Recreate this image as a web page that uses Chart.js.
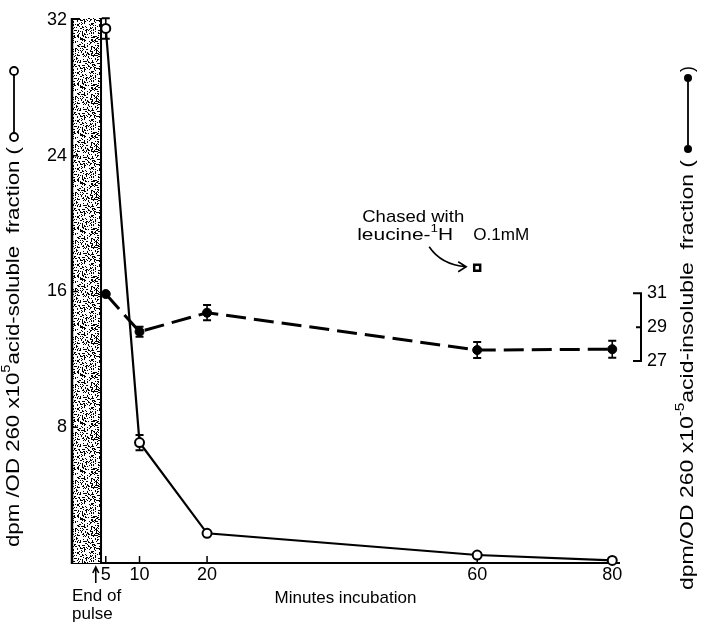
<!DOCTYPE html>
<html><head><meta charset="utf-8">
<script src="https://cdn.jsdelivr.net/npm/chart.js@4.4.0/dist/chart.umd.min.js"></script>
<style>html,body{margin:0;padding:0;background:#fff}#wrap{width:702px;height:623px}</style>
</head><body><div id="wrap"><canvas id="c" width="702" height="623"></canvas></div>
<script>
// ---- data ----
const minutes = [5, 10, 20, 60, 80];
const solubleValues = [31.5, 7.1, 1.75, 0.47, 0.15];
const solubleErrors = [0.6, 0.45, 0, 0, 0];
const insolubleValues = [30.95, 28.73, 29.85, 27.65, 27.7];
const insolubleErrors = [0, 0.3, 0.45, 0.47, 0.5];
const chaseMinutes = [60];
const chaseValues = [17.4];
const xTickValues = [5, 10, 20, 60, 80];
const xTickLabels = ['5', '10', '20', '60', '80'];
const leftTickValues = [8, 16, 24, 32];
const rightTickValues = [27, 29, 31];
const pulseBand = [0, 4.3];

const FAM = '"Liberation Sans", Arial, sans-serif';

function stipple(ctx) {
  const c = document.createElement('canvas');
  c.width = 48; c.height = 48;
  const g = c.getContext('2d');
  g.fillStyle = '#fff'; g.fillRect(0, 0, 48, 48);
  g.fillStyle = '#000';
  for (let i = 0; i < 48; i++) for (let j = 0; j < 48; j++) {
    const h = Math.sin(i * 12.9898 + j * 78.233) * 43758.5453;
    if (h - Math.floor(h) < 0.3) g.fillRect(i, j, 1, 1);
  }
  return ctx.createPattern(c, 'repeat');
}

function drawRich(ctx, segs, size, len) {
  const main = size + 'px ' + FAM, sup = Math.round(size * 0.65) + 'px ' + FAM;
  let W = 0;
  segs.forEach(s => { ctx.font = s.sup ? sup : main; s.w = ctx.measureText(s.t).width; W += s.w; });
  ctx.save();
  if (len) ctx.scale(len / W, 1);
  let u = 0;
  segs.forEach(s => {
    ctx.font = s.sup ? sup : main;
    ctx.fillText(s.t, u, s.sup ? -size * 0.42 : 0);
    u += s.w;
  });
  ctx.restore();
}

const noPad = s => { s.paddingTop = 0; s.paddingBottom = 0; s.paddingLeft = 0; s.paddingRight = 0; };

const decorPlugin = {
  id: 'decor',
  beforeDatasetsDraw(chart) {
    const { ctx, scales: { x, y } } = chart;
    const x0 = x.getPixelForValue(pulseBand[0]), x1 = x.getPixelForValue(pulseBand[1]);
    const yTop = y.getPixelForValue(y.max) - 2, yBot = y.getPixelForValue(0);
    ctx.save();
    ctx.fillStyle = stipple(ctx);
    ctx.fillRect(x0, yTop, x1 - x0, yBot - yTop);
    ctx.strokeStyle = '#000';
    ctx.lineWidth = 2;
    ctx.beginPath();
    ctx.moveTo(x1, yTop); ctx.lineTo(x1, yBot);
    ctx.moveTo(x0, yTop + 1); ctx.lineTo(x0 + 8, yTop + 1);
    ctx.stroke();
    ctx.lineWidth = 2.5;
    ctx.beginPath(); ctx.moveTo(x0, yTop); ctx.lineTo(x0, yBot + 1); ctx.stroke();
    // inside ticks
    ctx.lineWidth = 1.5;
    ctx.beginPath();
    leftTickValues.slice(0, 3).forEach(v => { const p = y.getPixelForValue(v); ctx.moveTo(x0, p); ctx.lineTo(x0 + 6, p); });
    xTickValues.forEach(v => { const p = x.getPixelForValue(v); ctx.moveTo(p, yBot); ctx.lineTo(p, yBot - 7); });
    ctx.stroke();
    // error bars
    const bars = (vals, errs, sc) => {
      vals.forEach((v, i) => {
        if (!errs[i]) return;
        const px = x.getPixelForValue(minutes[i]);
        const a = sc.getPixelForValue(v + errs[i]), b = sc.getPixelForValue(v - errs[i]);
        ctx.lineWidth = 1.6;
        ctx.beginPath(); ctx.moveTo(px, a); ctx.lineTo(px, b); ctx.stroke();
        ctx.lineWidth = 2;
        ctx.beginPath(); ctx.moveTo(px - 4, a); ctx.lineTo(px + 4, a); ctx.moveTo(px - 4, b); ctx.lineTo(px + 4, b); ctx.stroke();
      });
    };
    bars(solubleValues, solubleErrors, y);
    bars(insolubleValues, insolubleErrors, chart.scales.y2);
    ctx.restore();
  },
  afterDraw(chart) {
    const { ctx, chartArea, scales: { x, y, y2 } } = chart;
    ctx.save();
    ctx.fillStyle = '#000'; ctx.strokeStyle = '#000';
    ctx.textBaseline = 'middle';
    // "end of pulse" arrow next to the 5-min tick label
    const ax = x.getPixelForValue(xTickValues[0]) - 10, ay = chartArea.bottom;
    ctx.lineWidth = 1.6;
    ctx.beginPath();
    ctx.moveTo(ax, ay + 20); ctx.lineTo(ax, ay + 5);
    ctx.moveTo(ax - 3, ay + 10); ctx.lineTo(ax, ay + 4); ctx.lineTo(ax + 3, ay + 10);
    ctx.stroke();
    // right bracket axis
    const bx = chartArea.right + 22;
    const p27 = y2.getPixelForValue(27), p29 = y2.getPixelForValue(29), p31 = y2.getPixelForValue(31);
    ctx.lineWidth = 2;
    ctx.beginPath();
    ctx.moveTo(bx - 8, p31); ctx.lineTo(bx, p31); ctx.lineTo(bx, p27); ctx.lineTo(bx - 8, p27);
    ctx.moveTo(bx - 5, p29); ctx.lineTo(bx, p29);
    ctx.stroke();
    // left title
    ctx.save();
    ctx.translate(14, 547); ctx.rotate(-Math.PI / 2);
    drawRich(ctx, [{ t: 'dpm /OD 260 x10' }, { t: '5', sup: true }, { t: 'acid-soluble  fraction (' }], 18, 400);
    ctx.lineWidth = 1.8;
    ctx.beginPath(); ctx.arc(410, 0, 4, 0, Math.PI * 2); ctx.stroke();
    ctx.beginPath(); ctx.moveTo(414, 0); ctx.lineTo(472, 0); ctx.stroke();
    ctx.beginPath(); ctx.arc(476, 0, 4, 0, Math.PI * 2); ctx.stroke();
    ctx.restore();
    // right title
    ctx.save();
    ctx.translate(688, 590); ctx.rotate(-Math.PI / 2);
    drawRich(ctx, [{ t: 'dpm/OD 260 x10' }, { t: '-5', sup: true }, { t: 'acid-insoluble  fraction (' }], 18, 430);
    ctx.lineWidth = 1.8;
    ctx.beginPath(); ctx.arc(441, 0, 4, 0, Math.PI * 2); ctx.fill();
    ctx.beginPath(); ctx.moveTo(441, 0); ctx.lineTo(512, 0); ctx.stroke();
    ctx.beginPath(); ctx.arc(512, 0, 4, 0, Math.PI * 2); ctx.fill();
    ctx.font = '18px ' + FAM; ctx.fillText(')', 518, 0);
    ctx.restore();
    // x title and End of pulse
    ctx.font = '17px ' + FAM; ctx.textAlign = 'center';
    ctx.fillText('Minutes incubation', (chartArea.left + chartArea.right) / 2, 598);
    ctx.textAlign = 'left';
    ctx.fillText('End of', chartArea.left, 596);
    ctx.fillText('pulse', chartArea.left, 614);
    // annotation
    const sx = x.getPixelForValue(chaseMinutes[0]), sy = y.getPixelForValue(chaseValues[0]);
    ctx.save(); ctx.translate(sx - 115, sy - 50);
    drawRich(ctx, [{ t: 'Chased with' }], 17, 102); ctx.restore();
    ctx.save(); ctx.translate(sx - 120, sy - 32);
    drawRich(ctx, [{ t: 'leucine-' }, { t: '1', sup: true }, { t: 'H' }], 17, 96); ctx.restore();
    ctx.save(); ctx.translate(sx - 4, sy - 32);
    drawRich(ctx, [{ t: 'O.1mM' }], 17, 56); ctx.restore();
    ctx.lineWidth = 1.6;
    ctx.beginPath();
    ctx.moveTo(sx - 48, sy - 21);
    ctx.quadraticCurveTo(sx - 36, sy - 3, sx - 11, sy - 1);
    ctx.moveTo(sx - 19, sy - 6); ctx.lineTo(sx - 11, sy - 1); ctx.lineTo(sx - 19, sy + 4);
    ctx.stroke();
    ctx.restore();
  }
};

const pts = (xs, ys) => xs.map((m, i) => ({ x: m, y: ys[i] }));

new Chart(document.getElementById('c'), {
  type: 'line',
  data: {
    datasets: [
      { label: 'acid-soluble', data: pts(minutes, solubleValues), yAxisID: 'y', borderColor: '#000', borderWidth: 2.2,
        pointRadius: 4.5, pointBorderWidth: 2, pointBackgroundColor: '#fff', pointBorderColor: '#000', tension: 0, clip: false },
      { label: 'acid-insoluble', data: pts(minutes, insolubleValues), yAxisID: 'y2', borderColor: '#000', borderWidth: 3,
        borderDash: [20, 8], pointRadius: 4.5, pointBorderWidth: 1, pointBackgroundColor: '#000', pointBorderColor: '#000', tension: 0, clip: false },
      { label: 'chased', data: pts(chaseMinutes, chaseValues), yAxisID: 'y', showLine: false, pointStyle: 'rect',
        pointRadius: 4.2, pointBorderWidth: 2.5, pointBackgroundColor: '#fff', pointBorderColor: '#000', clip: false }
    ]
  },
  options: {
    responsive: false, animation: false,
    layout: { padding: { top: 20, left: 0, right: 0, bottom: 0 } },
    plugins: { legend: { display: false }, tooltip: { enabled: false } },
    scales: {
      x: {
        type: 'linear', min: 0, max: 81,
        afterBuildTicks: s => { s.ticks = xTickValues.map(v => ({ value: v })); },
        afterFit: s => { s.height = 60; noPad(s); },
        grid: { display: false, drawTicks: false }, border: { display: true, color: '#000', width: 2 },
        ticks: { color: '#000', font: { family: FAM, size: 18 }, padding: 1, maxRotation: 0, autoSkip: false,
          callback: v => xTickLabels[xTickValues.indexOf(v)] }
      },
      y: {
        position: 'left', min: 0, max: 32,
        afterBuildTicks: s => { s.ticks = leftTickValues.map(v => ({ value: v })); },
        afterFit: s => { s.width = 72; noPad(s); },
        grid: { display: false, drawTicks: false }, border: { display: false },
        ticks: { color: '#000', font: { family: FAM, size: 18 }, padding: 5 }
      },
      y2: {
        position: 'right', min: 15.1, max: 47.1,
        afterBuildTicks: s => { s.ticks = rightTickValues.map(v => ({ value: v })); },
        afterFit: s => { s.width = 83; noPad(s); },
        grid: { display: false, drawTicks: false }, border: { display: false },
        ticks: { color: '#000', font: { family: FAM, size: 18 }, padding: 28 }
      }
    }
  },
  plugins: [decorPlugin]
});
</script>
</body></html>
